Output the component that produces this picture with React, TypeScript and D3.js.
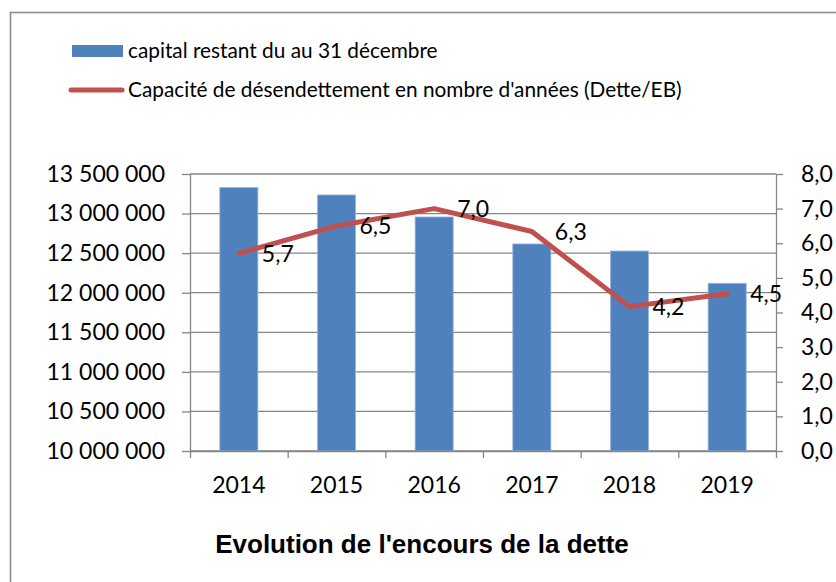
import React, { useEffect, useRef } from 'react';
import * as d3 from 'd3';

const years = ['2014', '2015', '2016', '2017', '2018', '2019'];
const capital = [13330000, 13235000, 12957000, 12616000, 12527000, 12119000];
const capacite = [5.71, 6.5, 7.0, 6.34, 4.17, 4.54];
const leftTicks = [10000000, 10500000, 11000000, 11500000, 12000000, 12500000, 13000000, 13500000];
const rightTicks = [0, 1, 2, 3, 4, 5, 6, 7, 8];
const legendLabels = [
  'capital restant du au 31 décembre',
  "Capacité de désendettement en nombre d'années (Dette/EB)",
];
const title = "Evolution de l'encours de la dette";

const App = () => {
  const ref = useRef<SVGSVGElement>(null);

  useEffect(() => {
    const svg = d3.select(ref.current);
    svg.selectAll('*').remove();

    const W = 836;
    const H = 582;
    const left = 190;
    const right = 776;
    const top = 174;
    const bottom = 451;
    const font = 'Lato, "Open Sans", sans-serif';
    const grey = '#868686';
    const blue = '#4F81BD';
    const red = '#C0504D';

    svg.attr('width', W).attr('height', H);

    // Chart frame (cut off on the right and bottom in the original)
    svg.append('rect')
      .attr('x', 10.5).attr('y', 12.5)
      .attr('width', 900).attr('height', 700)
      .attr('fill', '#fff')
      .attr('stroke', '#8c8c8c')
      .attr('stroke-width', 1.6);

    const x = d3.scaleBand().domain(years).range([left, right]).paddingInner(0.61).paddingOuter(0.305);
    const xEdge = d3.scaleLinear().domain([0, years.length]).range([left, right]);
    const yL = d3.scaleLinear().domain([10000000, 13500000]).range([bottom, top]);
    const yR = d3.scaleLinear().domain([0, 8]).range([bottom, top]);

    const fmtL = (v: number) => d3.format(',')(v).replace(/,/g, ' ');
    const fmtR = (v: number) => d3.format('.1f')(v).replace('.', ',');

    // Gridlines
    svg.append('g')
      .selectAll('line')
      .data(leftTicks)
      .join('line')
      .attr('x1', left).attr('x2', right)
      .attr('y1', d => yL(d)).attr('y2', d => yL(d))
      .attr('stroke', grey).attr('stroke-width', 1.3);

    // Bars
    svg.append('g')
      .selectAll('rect')
      .data(capital)
      .join('rect')
      .attr('x', (_, i) => x(years[i]) as number)
      .attr('y', d => yL(d))
      .attr('width', x.bandwidth())
      .attr('height', d => bottom - yL(d))
      .attr('fill', blue)
      .attr('stroke', '#9bb7da')
      .attr('stroke-width', 0.8);

    // Left axis
    const gl = svg.append('g')
      .attr('transform', `translate(${left},0)`)
      .call(d3.axisLeft(yL).tickValues(leftTicks).tickFormat(d => fmtL(+d)).tickSize(8).tickSizeOuter(0).tickPadding(17));
    gl.select('.domain').attr('stroke', grey).attr('stroke-width', 1.3);
    gl.selectAll('.tick line').attr('stroke', grey).attr('stroke-width', 1.3);
    gl.selectAll('.tick text').attr('font-family', font).attr('font-size', 23).attr('fill', '#000');

    // Right axis
    const gr = svg.append('g')
      .attr('transform', `translate(${right},0)`)
      .call(d3.axisRight(yR).tickValues(rightTicks).tickFormat(d => fmtR(+d)).tickSize(7).tickSizeOuter(0).tickPadding(18));
    gr.select('.domain').attr('stroke', grey).attr('stroke-width', 1.3);
    gr.selectAll('.tick line').attr('stroke', grey).attr('stroke-width', 1.3);
    gr.selectAll('.tick text').attr('font-family', font).attr('font-size', 23).attr('fill', '#000');

    // Bottom axis (ticks between categories)
    const gb = svg.append('g')
      .attr('transform', `translate(0,${bottom})`)
      .call(d3.axisBottom(xEdge).tickValues(d3.range(years.length + 1)).tickFormat(() => '').tickSize(7).tickSizeOuter(0));
    gb.select('.domain').attr('stroke', grey).attr('stroke-width', 1.3);
    gb.selectAll('.tick line').attr('stroke', grey).attr('stroke-width', 1.3);

    svg.append('g')
      .selectAll('text')
      .data(years)
      .join('text')
      .attr('x', d => (x(d) as number) + x.bandwidth() / 2)
      .attr('y', 493)
      .attr('text-anchor', 'middle')
      .attr('font-family', font)
      .attr('font-size', 23)
      .text(d => d);

    // Line
    const cx = (i: number) => (x(years[i]) as number) + x.bandwidth() / 2;
    const line = d3.line<number>().x((_, i) => cx(i)).y(d => yR(d));
    svg.append('path')
      .datum(capacite)
      .attr('d', line)
      .attr('fill', 'none')
      .attr('stroke', red)
      .attr('stroke-width', 5)
      .attr('stroke-linejoin', 'round')
      .attr('stroke-linecap', 'round');

    svg.append('g')
      .selectAll('text')
      .data(capacite)
      .join('text')
      .attr('x', (_, i) => cx(i) + 23)
      .attr('y', d => yR(d))
      .attr('dy', '0.36em')
      .attr('font-family', font)
      .attr('font-size', 23)
      .text(d => fmtR(d));

    // Legend
    svg.append('rect')
      .attr('x', 72).attr('y', 45).attr('width', 51).attr('height', 12)
      .attr('fill', blue);
    svg.append('line')
      .attr('x1', 71).attr('x2', 122).attr('y1', 90).attr('y2', 90)
      .attr('stroke', red).attr('stroke-width', 5).attr('stroke-linecap', 'round');
    svg.append('g')
      .selectAll('text')
      .data(legendLabels)
      .join('text')
      .attr('x', 128)
      .attr('y', (_, i) => 51 + i * 39)
      .attr('dy', '0.35em')
      .attr('font-family', font)
      .attr('font-size', 20.8)
      .text(d => d);

    // Title
    svg.append('text')
      .attr('x', 422)
      .attr('y', 553)
      .attr('text-anchor', 'middle')
      .attr('font-family', '"Liberation Sans", Arial, sans-serif')
      .attr('font-weight', 'bold')
      .attr('font-size', 26)
      .text(title);
  }, []);

  return <svg ref={ref} style={{ position: 'absolute', left: 0, top: 0 }} />;
};

export default App;
